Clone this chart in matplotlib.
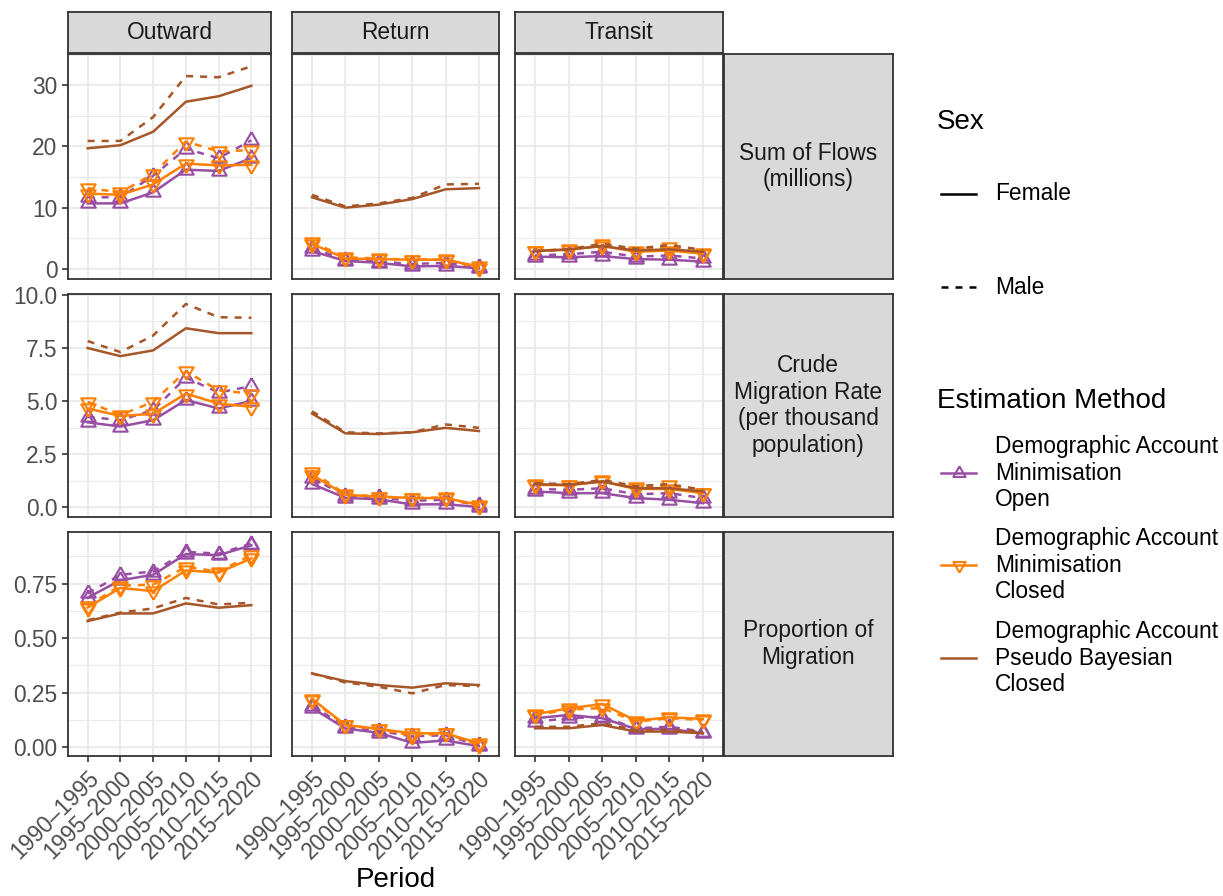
import matplotlib
matplotlib.use("Agg")
import matplotlib.pyplot as plt
from matplotlib.lines import Line2D
import numpy as np

plt.rcParams['font.family'] = ['Liberation Sans', 'DejaVu Sans']

# ---------------- data ----------------
periods = ["1990–1995", "1995–2000", "2000–2005", "2005–2010", "2010–2015", "2015–2020"]
directions = ["Outward", "Return", "Transit"]
measures = ["Sum of Flows\n(millions)", "Crude\nMigration Rate\n(per thousand\npopulation)", "Proportion of\nMigration"]
methods = ["Demographic Account\nMinimisation\nOpen",
           "Demographic Account\nMinimisation\nClosed",
           "Demographic Account\nPseudo Bayesian\nClosed"]
sexes = ["Female", "Male"]

# Sum of flows (millions)
flows_outward = {
    "open_f":   [10.7, 10.7, 12.5, 16.2, 16.0, 18.1],
    "open_m":   [11.7, 11.7, 15.2, 19.6, 18.1, 21.0],
    "closed_f": [12.3, 12.1, 13.8, 17.2, 16.9, 17.0],
    "closed_m": [13.2, 12.5, 15.5, 20.8, 19.2, 19.4],
    "pb_f":     [19.7, 20.2, 22.4, 27.3, 28.2, 29.9],
    "pb_m":     [20.9, 20.9, 24.8, 31.5, 31.3, 33.1],
}
flows_return = {
    "open_f":   [2.9, 1.3, 1.0, 0.4, 0.5, 0.1],
    "open_m":   [3.4, 1.5, 1.2, 0.8, 1.0, 0.3],
    "closed_f": [4.1, 1.7, 1.6, 1.5, 1.5, 0.4],
    "closed_m": [4.4, 1.9, 1.7, 1.5, 1.6, 0.1],
    "pb_f":     [11.7, 10.0, 10.5, 11.4, 13.0, 13.2],
    "pb_m":     [12.1, 10.2, 10.7, 11.6, 13.8, 13.9],
}
flows_transit = {
    "open_f":   [2.0, 1.9, 2.1, 1.6, 1.5, 1.2],
    "open_m":   [2.2, 2.4, 2.8, 2.0, 2.2, 1.7],
    "closed_f": [3.0, 3.1, 3.8, 2.8, 3.0, 2.5],
    "closed_m": [3.0, 3.2, 4.0, 2.9, 3.6, 2.6],
    "pb_f":     [2.9, 3.2, 3.7, 3.0, 3.2, 2.8],
    "pb_m":     [2.9, 3.2, 4.1, 3.3, 3.9, 3.1],
}

# Crude migration rate (per thousand)
cmr_outward = {
    "open_f":   [4.00, 3.80, 4.10, 5.05, 4.65, 5.00],
    "open_m":   [4.26, 4.10, 4.57, 6.10, 5.40, 5.70],
    "closed_f": [4.65, 4.30, 4.40, 5.35, 4.88, 4.73],
    "closed_m": [4.96, 4.34, 4.96, 6.40, 5.50, 5.35],
    "pb_f":     [7.49, 7.11, 7.38, 8.42, 8.19, 8.19],
    "pb_m":     [7.82, 7.30, 8.08, 9.56, 8.94, 8.91],
}
cmr_return = {
    "open_f":   [1.10, 0.45, 0.38, 0.14, 0.15, 0.02],
    "open_m":   [1.37, 0.56, 0.47, 0.31, 0.36, 0.12],
    "closed_f": [1.53, 0.59, 0.51, 0.44, 0.44, 0.12],
    "closed_m": [1.68, 0.62, 0.51, 0.44, 0.47, 0.05],
    "pb_f":     [4.41, 3.48, 3.45, 3.53, 3.74, 3.59],
    "pb_m":     [4.52, 3.53, 3.48, 3.53, 3.90, 3.74],
}
cmr_transit = {
    "open_f":   [0.75, 0.67, 0.67, 0.44, 0.36, 0.20],
    "open_m":   [0.87, 0.83, 0.90, 0.62, 0.67, 0.44],
    "closed_f": [1.06, 1.04, 1.22, 0.87, 0.87, 0.67],
    "closed_m": [1.09, 1.07, 1.27, 0.95, 1.05, 0.67],
    "pb_f":     [1.09, 1.06, 1.22, 0.90, 0.90, 0.75],
    "pb_m":     [1.14, 1.09, 1.29, 1.00, 1.09, 0.83],
}

# Proportion of migration
prop_outward = {
    "open_f":   [0.685, 0.765, 0.790, 0.885, 0.880, 0.925],
    "open_m":   [0.705, 0.790, 0.805, 0.895, 0.887, 0.933],
    "closed_f": [0.640, 0.730, 0.715, 0.810, 0.800, 0.865],
    "closed_m": [0.648, 0.740, 0.745, 0.826, 0.805, 0.880],
    "pb_f":     [0.578, 0.613, 0.613, 0.659, 0.639, 0.651],
    "pb_m":     [0.582, 0.617, 0.636, 0.684, 0.654, 0.662],
}
prop_return = {
    "open_f":   [0.180, 0.086, 0.066, 0.020, 0.031, 0.005],
    "open_m":   [0.190, 0.095, 0.075, 0.050, 0.055, 0.010],
    "closed_f": [0.222, 0.102, 0.084, 0.064, 0.064, 0.018],
    "closed_m": [0.216, 0.100, 0.084, 0.053, 0.064, 0.010],
    "pb_f":     [0.338, 0.303, 0.285, 0.273, 0.293, 0.285],
    "pb_m":     [0.338, 0.297, 0.277, 0.247, 0.285, 0.280],
}
prop_transit = {
    "open_f":   [0.133, 0.148, 0.133, 0.084, 0.084, 0.064],
    "open_m":   [0.117, 0.133, 0.140, 0.087, 0.094, 0.072],
    "closed_f": [0.152, 0.178, 0.198, 0.122, 0.137, 0.130],
    "closed_m": [0.148, 0.172, 0.180, 0.117, 0.133, 0.125],
    "pb_f":     [0.087, 0.087, 0.102, 0.072, 0.072, 0.064],
    "pb_m":     [0.094, 0.094, 0.110, 0.079, 0.079, 0.072],
}

panel_data = [
    [flows_outward, flows_return, flows_transit],
    [cmr_outward, cmr_return, cmr_transit],
    [prop_outward, prop_return, prop_transit],
]

row_ticks = [[0, 10, 20, 30], [0.0, 2.5, 5.0, 7.5, 10.0], [0.0, 0.25, 0.5, 0.75]]
row_ticklabels = [["0", "10", "20", "30"], ["0.0", "2.5", "5.0", "7.5", "10.0"],
                  ["0.00", "0.25", "0.50", "0.75"]]
row_minor = [[5, 15, 25, 35], [1.25, 3.75, 6.25, 8.75], [0.125, 0.375, 0.625, 0.875]]
row_ylim = [(-1.6, 35.1), (-0.45, 10.03), (-0.04, 0.986)]

# ---------------- style ----------------
W, H = 1223, 896
DPI = 100
col_purple = "#984EA3"
col_orange = "#FF7F00"
col_brown = "#A65628"
method_keys = ["open", "closed", "pb"]
method_colors = [col_purple, col_orange, col_brown]

tri_up = [(0, 1), (-0.866, -0.5), (0.866, -0.5), (0, 1)]
tri_down = [(0, -1), (-0.866, 0.5), (0.866, 0.5), (0, -1)]
method_markers = [tri_up, tri_down, None]
sex_styles = ["-", (0, (2.8, 2.8))]
sex_keys = ["f", "m"]

LW = 1.8
MS = 12
MEW = 1.5
border = "#333333"
gridc = "#EBEBEB"
tickc = "#4D4D4D"
TICK_FS = 16.4
STRIP_FS = 16.4
LEG_FS = 16.4
TITLE_FS = 20

fig = plt.figure(figsize=(W / DPI, H / DPI), dpi=DPI)


def rect(x0, x1, y0, y1):
    return [x0 / W, 1 - y1 / H, (x1 - x0) / W, (y1 - y0) / H]


col_x = [(68, 271), (292, 499), (515, 723)]
row_y = [(54, 278.7), (294, 517), (532, 756)]
strip_top = (12, 53.5)
strip_right = (723.5, 893)

x = np.arange(1, len(periods) + 1)

for r in range(3):
    for c in range(3):
        ax = fig.add_axes(rect(col_x[c][0], col_x[c][1], row_y[r][0], row_y[r][1]))
        ax.set_xlim(0.4, 6.6)
        ax.set_ylim(*row_ylim[r])
        ax.set_facecolor("white")
        for yv in row_minor[r]:
            ax.axhline(yv, color=gridc, lw=0.8, zorder=0)
        for yv in row_ticks[r]:
            ax.axhline(yv, color=gridc, lw=1.5, zorder=0)
        for xv in x:
            ax.axvline(xv, color=gridc, lw=1.5, zorder=0)
        data = panel_data[r][c]
        for mi, mk in enumerate(method_keys):
            for si, sk in enumerate(sex_keys):
                vals = data[mk + "_" + sk]
                kw = {}
                if method_markers[mi] is not None:
                    kw = dict(marker=method_markers[mi], markersize=MS, markerfacecolor="none",
                              markeredgecolor=method_colors[mi], markeredgewidth=MEW)
                ax.plot(x, vals, color=method_colors[mi], lw=LW, linestyle=sex_styles[si],
                        zorder=3, **kw)
        for sp in ax.spines.values():
            sp.set_color(border)
            sp.set_linewidth(1.3)
        ax.set_xticks(x)
        ax.tick_params(axis="both", color=border, length=4.5, width=1.2,
                       labelsize=TICK_FS, labelcolor=tickc, pad=3)
        if r == 2:
            ax.set_xticklabels(periods, rotation=45, ha="right", va="top",
                               rotation_mode="anchor")
        else:
            ax.tick_params(axis="x", length=0, labelbottom=False)
        ax.set_yticks(row_ticks[r])
        if c == 0:
            ax.set_yticklabels(row_ticklabels[r])
        else:
            ax.tick_params(axis="y", length=0, labelleft=False)

# top strips
for c in range(3):
    sa = fig.add_axes(rect(col_x[c][0], col_x[c][1], strip_top[0], strip_top[1]))
    sa.set_facecolor("#D9D9D9")
    sa.set_xticks([])
    sa.set_yticks([])
    for sp in sa.spines.values():
        sp.set_color(border)
        sp.set_linewidth(1.3)
    sa.text(0.5, 0.5, directions[c], ha="center", va="center", fontsize=STRIP_FS,
            color="#1A1A1A", transform=sa.transAxes)

# right strips
for r in range(3):
    sa = fig.add_axes(rect(strip_right[0], strip_right[1], row_y[r][0], row_y[r][1]))
    sa.set_facecolor("#D9D9D9")
    sa.set_xticks([])
    sa.set_yticks([])
    for sp in sa.spines.values():
        sp.set_color(border)
        sp.set_linewidth(1.3)
    sa.text(0.5, 0.5, measures[r], ha="center", va="center", fontsize=STRIP_FS,
            color="#1A1A1A", transform=sa.transAxes, linespacing=1.2)

# overlay for legend and axis title (pixel coordinates)
ov = fig.add_axes([0, 0, 1, 1], facecolor="none")
ov.set_xlim(0, W)
ov.set_ylim(H, 0)
ov.axis("off")

ov.text(395.5, 880, "Period", ha="center", va="center", fontsize=TITLE_FS, color="black")

# Sex legend
ov.text(937, 122, "Sex", ha="left", va="center", fontsize=TITLE_FS, color="black")
sex_y = [194, 287]
for si in range(2):
    ov.add_line(Line2D([941, 976], [sex_y[si], sex_y[si]], color="black", lw=LW,
                       linestyle=sex_styles[si]))
    ov.text(995, sex_y[si], sexes[si], ha="left", va="center", fontsize=LEG_FS, color="black")

# Method legend
ov.text(937, 401, "Estimation Method", ha="left", va="center", fontsize=TITLE_FS, color="black")
meth_y = [473, 565, 658]
for mi in range(3):
    yk = meth_y[mi]
    ov.add_line(Line2D([941, 976], [yk, yk], color=method_colors[mi], lw=LW))
    if method_markers[mi] is not None:
        ov.add_line(Line2D([958.5], [yk], marker=method_markers[mi], markersize=MS * 0.85,
                           markerfacecolor="none", markeredgecolor=method_colors[mi],
                           markeredgewidth=MEW, linestyle="none"))
    ov.text(995, yk, methods[mi], ha="left", va="center", fontsize=LEG_FS, color="black",
            linespacing=1.2)

fig.savefig("out.png", dpi=DPI)
